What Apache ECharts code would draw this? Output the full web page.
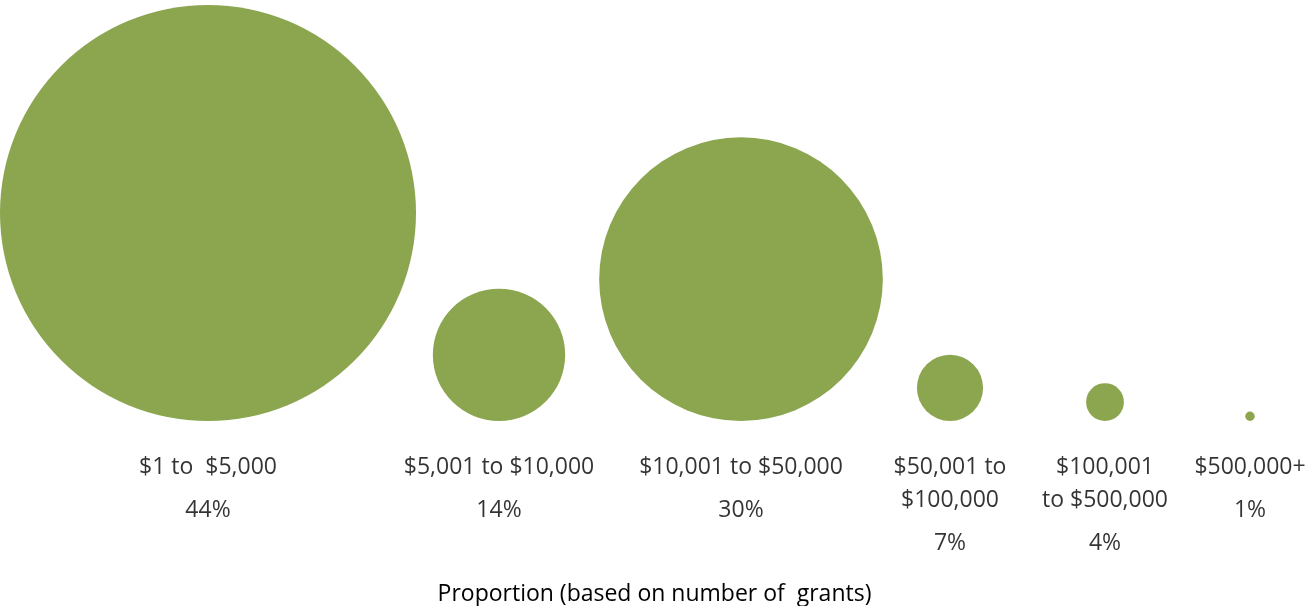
<!DOCTYPE html>
<html>
<head>
<meta charset="utf-8">
<script src="https://cdn.jsdelivr.net/npm/echarts@6/dist/echarts.min.js"></script>
<style>
  html, body { margin: 0; padding: 0; background: #ffffff; }
  #chart { width: 1309px; height: 606px; }
</style>
</head>
<body>
<div id="chart"></div>
<script>
// Grant size bands and their share of the number of grants (%)
const categories = ['$1 to  $5,000', '$5,001 to $10,000', '$10,001 to $50,000', '$50,001 to\n$100,000', '$100,001\nto $500,000', '$500,000+'];
const shares = [44, 14, 30, 7, 4, 1];
// Horizontal position of each bubble along the row
const bubbleX = [208, 499, 741, 950, 1105, 1250];

const GREEN = '#8ba64e';
const TEXT = '#000000';
const FONT = '"Open Sans", "Noto Sans", sans-serif';
const FONT_SIZE = 23;
// Bubble diameter grows linearly with the share
const PX_PER_PERCENT = 416 / 44;

const bubbles = shares.map((v, i) => ({ value: [bubbleX[i], 0], share: v, name: categories[i] }));

const labelText = (name, v) =>
  name.split('\n').map(l => '{n|' + l + '}').join('\n') + '\n{p|' + v + '%}';

const chart = echarts.init(document.getElementById('chart'), null, { renderer: 'canvas' });
chart.setOption({
  backgroundColor: '#ffffff',
  animation: false,
  title: {
    text: 'Proportion (based on number of  grants)',
    left: 'center',
    top: 578,
    textStyle: { fontFamily: FONT, fontSize: FONT_SIZE, fontWeight: 'normal', color: TEXT }
  },
  grid: { left: 0, right: 0, top: 0, bottom: 185 },
  xAxis: { type: 'value', min: 0, max: 1309, show: false },
  yAxis: { type: 'value', min: 0, max: 1, show: false },
  series: [
    {
      type: 'scatter',
      data: bubbles,
      symbol: 'circle',
      symbolSize: (val, p) => p.data.share * PX_PER_PERCENT,
      symbolOffset: [0, '-50%'],
      itemStyle: { color: GREEN, opacity: 1 },
      silent: true
    },
    {
      type: 'scatter',
      data: bubbles,
      symbolSize: 0,
      silent: true,
      label: {
        show: true,
        position: 'bottom',
        distance: 30,
        align: 'center',
        formatter: p => labelText(p.data.name, p.data.share),
        rich: {
          n: { fontFamily: FONT, fontSize: FONT_SIZE, color: TEXT, lineHeight: 33, align: 'center' },
          p: { fontFamily: FONT, fontSize: FONT_SIZE, color: TEXT, lineHeight: 53, align: 'center' }
        }
      }
    }
  ]
});
</script>
</body>
</html>
